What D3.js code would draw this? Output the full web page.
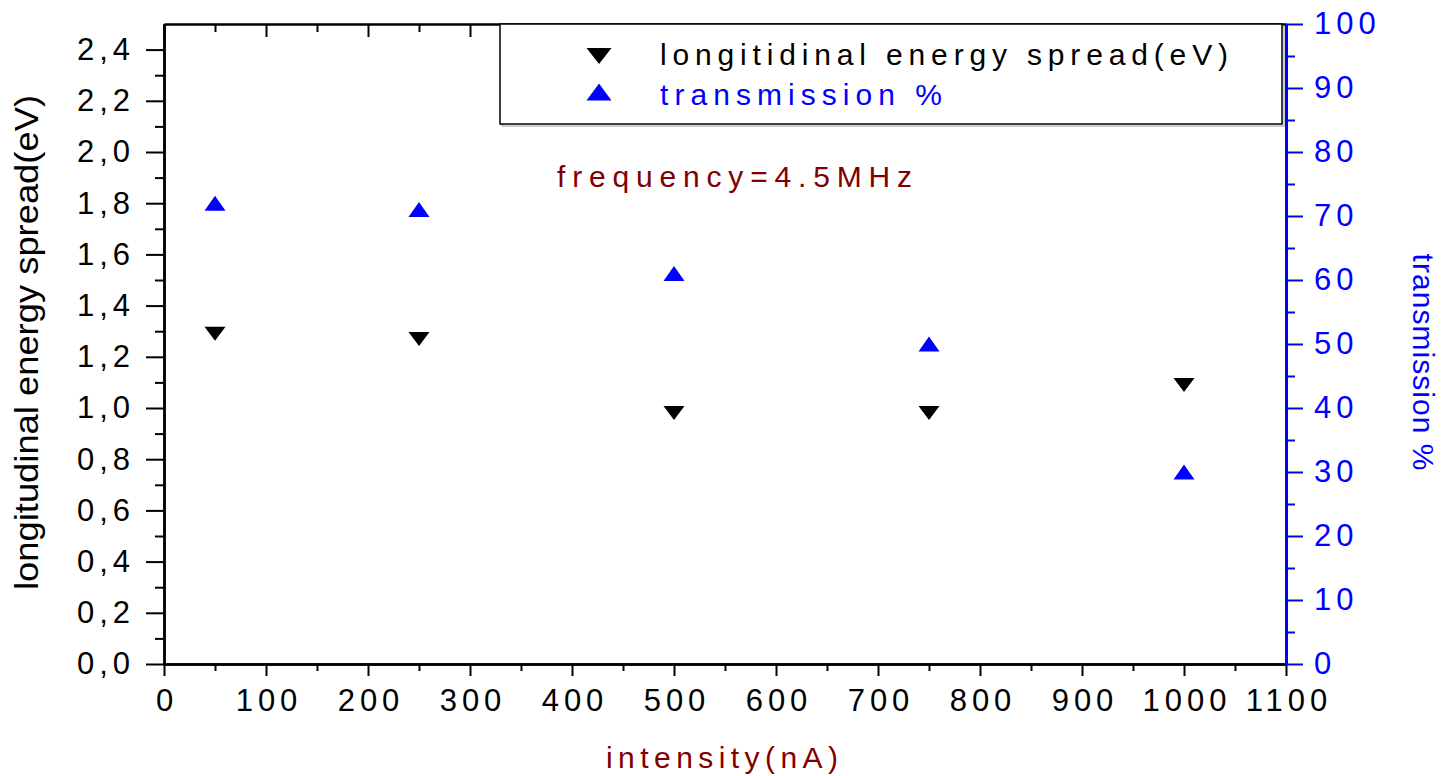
<!DOCTYPE html>
<html>
<head>
<meta charset="utf-8">
<script src="https://cdn.jsdelivr.net/npm/d3@7"></script>
<style>
  body { margin: 0; background: #fff; }
  text { font-family: "Liberation Sans", Arial, sans-serif; }
</style>
</head>
<body>
<div id="chart"></div>
<script>
// data
const intensity = [50, 250, 500, 750, 1000];
const spread = [1.29, 1.27, 0.98, 0.98, 1.09];
const transmission = [72, 71, 61, 50, 30];

const xMajor = d3.range(0, 1101, 100);
const xMinor = d3.range(50, 1100, 100);
const yMajor = d3.range(0, 2.41, 0.2);
const yMinor = d3.range(0.1, 2.5, 0.2);
const rMajor = d3.range(0, 101, 10);
const rMinor = d3.range(5, 100, 10);

const width = 1442, height = 776;
const plot = { left: 164, right: 1286, top: 24, bottom: 664 };
const darkRed = "#800000", blue = "#0000ff";

const svg = d3.select("#chart").append("svg")
    .attr("width", width)
    .attr("height", height);

const x = d3.scaleLinear().domain([0, 1100]).range([plot.left, plot.right]);
const y = d3.scaleLinear().domain([0, 2.5]).range([plot.bottom, plot.top]);
const yR = d3.scaleLinear().domain([0, 100]).range([plot.bottom, plot.top]);

const commaFmt = d => d3.format(".1f")(d).replace(".", ",");
const intFmt = d3.format("d");

// styling helper for axes
function styleAxis(g, color, sw) {
    g.select(".domain").attr("stroke", color).attr("stroke-width", sw);
    g.selectAll(".tick line").attr("stroke", color).attr("stroke-width", 2);
    g.selectAll(".tick text")
        .attr("fill", color)
        .style("font-size", "31px")
        .style("letter-spacing", "5px");
}

// bottom axis
svg.append("g")
    .attr("transform", `translate(0,${plot.bottom})`)
    .call(d3.axisBottom(x).tickValues(xMinor).tickSize(7).tickFormat("").tickSizeOuter(0))
    .call(g => styleAxis(g, "#000", 2.5));
svg.append("g")
    .attr("transform", `translate(0,${plot.bottom})`)
    .call(d3.axisBottom(x).tickValues(xMajor).tickSize(12).tickPadding(13).tickFormat(intFmt).tickSizeOuter(0))
    .call(g => styleAxis(g, "#000", 2.5))
    .call(g => g.selectAll(".tick text").attr("dx", "2.5"));

// top axis, ticks pointing inside
svg.append("g")
    .attr("transform", `translate(0,${plot.top})`)
    .call(d3.axisTop(x).tickValues(xMinor).tickSize(-8).tickFormat("").tickSizeOuter(0))
    .call(g => styleAxis(g, "#000", 2));
svg.append("g")
    .attr("transform", `translate(0,${plot.top})`)
    .call(d3.axisTop(x).tickValues(xMajor).tickSize(-13).tickFormat("").tickSizeOuter(0))
    .call(g => styleAxis(g, "#000", 2));

// left axis
svg.append("g")
    .attr("transform", `translate(${plot.left},0)`)
    .call(d3.axisLeft(y).tickValues(yMinor).tickSize(9).tickFormat("").tickSizeOuter(0))
    .call(g => styleAxis(g, "#000", 2.5));
svg.append("g")
    .attr("transform", `translate(${plot.left},0)`)
    .call(d3.axisLeft(y).tickValues(yMajor).tickSize(18).tickPadding(11).tickFormat(commaFmt).tickSizeOuter(0))
    .call(g => styleAxis(g, "#000", 2.5));

// right axis (transmission)
svg.append("g")
    .attr("transform", `translate(${plot.right},0)`)
    .call(d3.axisRight(yR).tickValues(rMinor).tickSize(9).tickFormat("").tickSizeOuter(0))
    .call(g => styleAxis(g, blue, 3));
svg.append("g")
    .attr("transform", `translate(${plot.right},0)`)
    .call(d3.axisRight(yR).tickValues(rMajor).tickSize(17).tickPadding(11).tickFormat(intFmt).tickSizeOuter(0))
    .call(g => styleAxis(g, blue, 3));

// triangle path around a centre point
function tri(cx, cy, w, h, up) {
    const s = up ? 1 : -1;
    return `M${cx - w / 2},${cy + s * h / 2}L${cx + w / 2},${cy + s * h / 2}L${cx},${cy - s * h / 2}Z`;
}

// data markers
svg.append("g").selectAll("path")
    .data(intensity.map((d, i) => ({ x: d, v: transmission[i] })))
    .enter().append("path")
    .attr("d", d => tri(x(d.x), yR(d.v), 21, 15, true))
    .attr("fill", blue);

svg.append("g").selectAll("path")
    .data(intensity.map((d, i) => ({ x: d, v: spread[i] })))
    .enter().append("path")
    .attr("d", d => tri(x(d.x), y(d.v), 21, 14, false))
    .attr("fill", "#000");

// legend box
svg.append("rect")
    .attr("x", 502).attr("y", 26).attr("width", 782).attr("height", 100)
    .attr("fill", "none").attr("stroke", "#999").attr("stroke-width", 1);
svg.append("rect")
    .attr("x", 500).attr("y", 24).attr("width", 782).attr("height", 100)
    .attr("fill", "#fff").attr("stroke", "#000").attr("stroke-width", 1.5);

svg.append("path").attr("d", tri(599, 56, 25, 16, false)).attr("fill", "#000");
svg.append("path").attr("d", tri(599, 92, 25, 17, true)).attr("fill", blue);

svg.append("text")
    .attr("x", 660).attr("y", 65)
    .attr("textLength", 568).attr("lengthAdjust", "spacing")
    .style("font-size", "30px")
    .attr("fill", "#000")
    .text("longitidinal energy spread(eV)");
svg.append("text")
    .attr("x", 660).attr("y", 105)
    .attr("textLength", 282).attr("lengthAdjust", "spacing")
    .style("font-size", "30px")
    .attr("fill", blue)
    .text("transmission %");

// annotation
svg.append("text")
    .attr("x", 557).attr("y", 187)
    .attr("textLength", 355).attr("lengthAdjust", "spacing")
    .style("font-size", "30px")
    .attr("fill", darkRed)
    .text("frequency=4.5MHz");

// axis titles
svg.append("text")
    .attr("x", 606).attr("y", 768)
    .attr("textLength", 232).attr("lengthAdjust", "spacing")
    .style("font-size", "30px")
    .attr("fill", darkRed)
    .text("intensity(nA)");

svg.append("text")
    .attr("transform", "translate(38,590) rotate(-90)")
    .attr("textLength", 495).attr("lengthAdjust", "spacingAndGlyphs")
    .style("font-size", "34px")
    .attr("fill", "#000")
    .text("longitudinal energy spread(eV)");

svg.append("text")
    .attr("transform", "translate(1413,362) rotate(90)")
    .attr("text-anchor", "middle")
    .attr("textLength", 217).attr("lengthAdjust", "spacing")
    .style("font-size", "30px")
    .attr("fill", blue)
    .text("transmission %");
</script>
</body>
</html>
